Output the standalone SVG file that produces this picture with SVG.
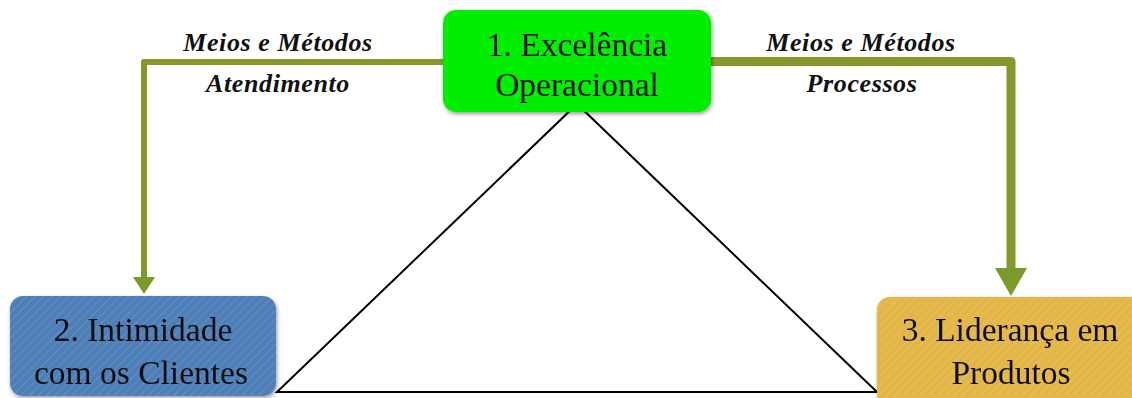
<svg xmlns="http://www.w3.org/2000/svg" width="1132" height="398" viewBox="0 0 1132 398">
<defs>
<pattern id="stripe" width="6" height="6" patternUnits="userSpaceOnUse" patternTransform="rotate(45)">
<rect width="6" height="6" fill="none"/>
<line x1="0" y1="0" x2="0" y2="6" stroke="#ffffff" stroke-opacity="0.12" stroke-width="2"/>
</pattern>
<filter id="sh" x="-10%" y="-10%" width="120%" height="130%">
<feGaussianBlur in="SourceAlpha" stdDeviation="2"/>
<feOffset dx="1" dy="2"/>
<feComponentTransfer><feFuncA type="linear" slope="0.4"/></feComponentTransfer>
<feMerge><feMergeNode/><feMergeNode in="SourceGraphic"/></feMerge>
</filter>
</defs>
<style>
.conn{fill:none;stroke:#86982b;stroke-linejoin:round}
.head{fill:#7a9a2a}
.tri{fill:none;stroke:#000;stroke-width:2}
.node text{font-family:"Liberation Serif",serif;font-size:33.5px;fill:#111;text-anchor:middle}
.lbl{font-family:"Liberation Serif",serif;font-size:26px;letter-spacing:0.6px;font-weight:bold;font-style:italic;fill:#111;text-anchor:middle}
</style>
<g id="triangle">
<polygon class="tri" points="577,104 277,392 877,392"/>
</g>
<g id="connectors">
<path class="conn" stroke-width="6" d="M445,62 H144 V278"/>
<polygon class="head" points="133,277 155,277 144,294"/>
<path class="conn" stroke-width="9" d="M709,61.5 H1011 V270"/>
<polygon class="head" points="995,268 1027,268 1011,296"/>
</g>
<g id="n1" class="node" filter="url(#sh)">
<rect x="443" y="10" width="268" height="102" rx="13" fill="#00ee00"/>
<text x="577" y="56">1. Excelência</text>
<text x="577" y="96">Operacional</text>
</g>
<g id="n2" class="node" filter="url(#sh)">
<rect x="10" y="296" width="266" height="100" rx="13" fill="#4f7fb8"/>
<rect x="10" y="296" width="266" height="100" rx="13" fill="url(#stripe)"/>
<text x="143" y="341">2. Intimidade</text>
<text x="141" y="384">com os Clientes</text>
</g>
<g id="n3" class="node" filter="url(#sh)">
<rect x="877" y="297" width="270" height="110" rx="13" fill="#e3b647"/>
<rect x="877" y="297" width="270" height="110" rx="13" fill="url(#stripe)"/>
<text x="1010" y="341">3. Liderança em</text>
<text x="1011" y="384">Produtos</text>
</g>
<g id="labels">
<text class="lbl" x="278" y="51">Meios e Métodos</text>
<text class="lbl" x="278" y="92">Atendimento</text>
<text class="lbl" x="861" y="51">Meios e Métodos</text>
<text class="lbl" x="862" y="92">Processos</text>
</g>
</svg>
